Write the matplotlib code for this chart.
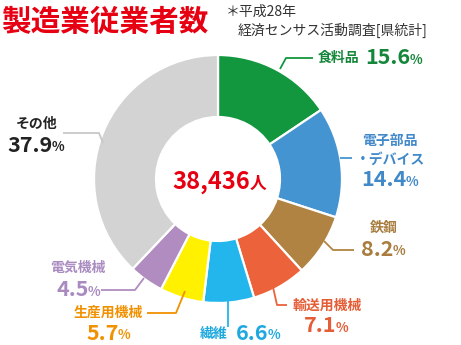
import matplotlib

matplotlib.use("Agg")
import matplotlib.pyplot as plt

plt.rcParams["font.family"] = ["Noto Sans CJK JP", "DejaVu Sans"]

# manufacturing employees by industry, clockwise from 12 o'clock
INDUSTRIES = ["食料品", "電子部品・デバイス", "鉄鋼", "輸送用機械", "繊維", "生産用機械", "電気機械", "その他"]
SHARES = [15.6, 14.4, 8.2, 7.1, 6.6, 5.7, 4.5, 37.9]
TOTAL = "38,436"

WEDGE_COLORS = ["#12973f", "#4594d2", "#b08343", "#eb623b", "#22b6ec", "#fff100", "#b08cc0", "#d3d3d3"]
TEXT_COLORS = ["#15873a", "#4189c8", "#a87d3f", "#e45d36", "#1fa9df", "#f29100", "#a98bc0", "#222222"]

W, H = 461, 345


def py(y):
    # layout is measured from the top edge
    return H - y


fig = plt.figure(figsize=(W / 100, H / 100), dpi=100)
ax = fig.add_axes([0, 0, 1, 1])
ax.set_xlim(0, W)
ax.set_ylim(0, H)
ax.set_aspect("equal")
ax.axis("off")

ax.pie(
    SHARES,
    colors=WEDGE_COLORS,
    startangle=90,
    counterclock=False,
    center=(218, py(179)),
    radius=124,
    wedgeprops=dict(width=62, edgecolor="white", linewidth=1.6),
    frame=True,
)
ax.set_xlim(0, W)
ax.set_ylim(0, H)
ax.axis("off")

renderer = fig.canvas.get_renderer()


def pct_label(x, y, value, color, ha="left", size=15.5):
    num = ax.text(x, py(y), f"{value:.1f}", color=color, fontsize=size,
                  fontweight="bold", ha="left", va="center")
    bb = num.get_window_extent(renderer).transformed(ax.transData.inverted())
    gap = -1
    pct = ax.text(bb.x1 + gap, py(y) - 2, "%", color=color, fontsize=9.5,
                  fontweight="bold", ha="left", va="center")
    pb = pct.get_window_extent(renderer).transformed(ax.transData.inverted())
    if ha == "center":
        shift = (pb.x1 - bb.x0) / 2
        num.set_x(x - shift)
        pct.set_x(bb.x1 + gap - shift)


def name(x, y, s, color, ha="center", size=10):
    ax.text(x, py(y), s, color=color, fontsize=size, fontweight="bold", ha=ha, va="center")


def leader(xs, ys, color):
    ax.plot(xs, [py(v) for v in ys], color=color, lw=1.3, solid_capstyle="butt")


# title and source note
ax.text(1, py(22), "製造業従業者数", color="#e60012", fontsize=21.3, fontweight="bold",
        ha="left", va="center")
ax.text(226, py(12), "＊平成28年", color="#333333", fontsize=10, ha="left", va="center")
ax.text(238, py(30), "経済センサス活動調査[県統計]", color="#333333", fontsize=10,
        ha="left", va="center")

# total in the middle
tot = ax.text(172, py(182), TOTAL, color="#e60012", fontsize=17, fontweight="bold",
              ha="left", va="center")
tb = tot.get_window_extent(renderer).transformed(ax.transData.inverted())
ax.text(tb.x1, py(184), "人", color="#e60012", fontsize=12, fontweight="bold",
        ha="left", va="center")

c = TEXT_COLORS
# 食料品
leader([280, 286, 313], [69, 58, 58], WEDGE_COLORS[0])
name(318, 58, INDUSTRIES[0], c[0], ha="left")
pct_label(365, 58, SHARES[0], c[0])
# 電子部品・デバイス
leader([340, 352], [158, 158], WEDGE_COLORS[1])
name(390, 141, "電子部品", c[1])
name(390, 160, "・デバイス", c[1])
pct_label(390, 180, SHARES[1], c[1], ha="center")
# 鉄鋼
leader([324, 333, 354], [241, 250, 250], WEDGE_COLORS[2])
name(384, 228, INDUSTRIES[2], c[2])
pct_label(383, 249, SHARES[2], c[2], ha="center")
# 輸送用機械
leader([273, 277, 287], [287, 305, 305], WEDGE_COLORS[3])
name(327, 306, INDUSTRIES[3], c[3])
pct_label(326, 326, SHARES[3], c[3], ha="center")
# 繊維
leader([228, 228], [301, 327], WEDGE_COLORS[4])
name(200, 334, INDUSTRIES[4], c[4], ha="left")
pct_label(236, 333, SHARES[4], c[4])
# 生産用機械
leader([185, 176, 147], [291, 313, 313], c[5])
name(108, 313, INDUSTRIES[5], c[5])
pct_label(108, 333, SHARES[5], c[5], ha="center")
# 電気機械
leader([144, 135, 101], [278, 290, 290], WEDGE_COLORS[6])
name(78, 268, INDUSTRIES[6], c[6])
pct_label(78, 290, SHARES[6], c[6], ha="center")
# その他
leader([63, 99, 103], [133, 133, 143], "#c8c8c8")
name(37, 124, INDUSTRIES[7], c[7])
pct_label(36, 145, SHARES[7], c[7], ha="center")

fig.savefig("out.png", dpi=100)
